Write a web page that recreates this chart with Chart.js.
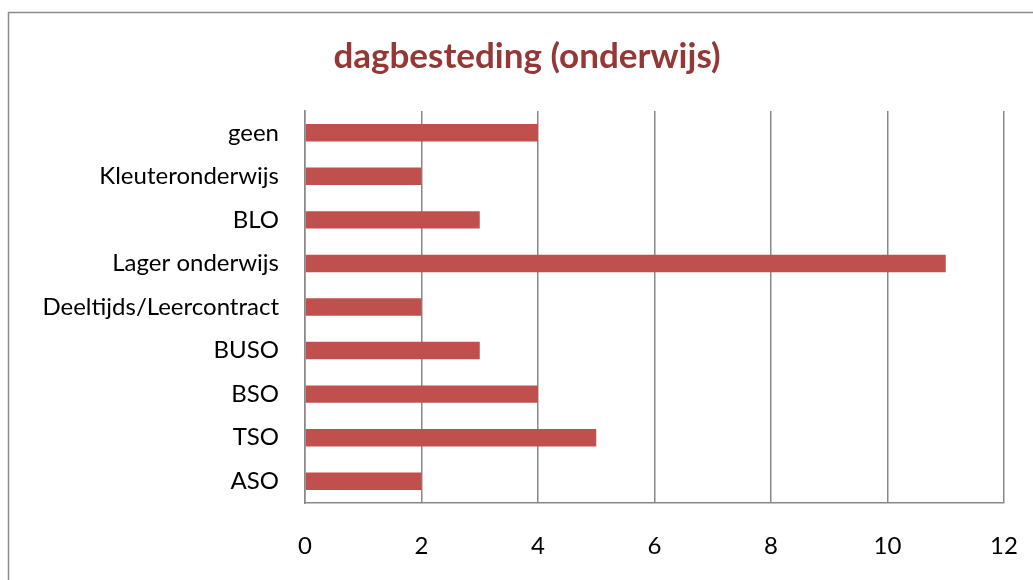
<!DOCTYPE html>
<html>
<head>
<meta charset="utf-8">
<script src="https://cdn.jsdelivr.net/npm/chart.js@4.4.1/dist/chart.umd.min.js"></script>
<style>
  html, body { margin: 0; padding: 0; background: #ffffff; }
  #wrap { position: relative; width: 1033px; height: 580px; }
</style>
</head>
<body>
<div id="wrap"><canvas id="c" width="1033" height="580"></canvas></div>
<script>
const categories = ["geen", "Kleuteronderwijs", "BLO", "Lager onderwijs", "Deeltijds/Leercontract", "BUSO", "BSO", "TSO", "ASO"];
const values = [4, 2, 3, 11, 2, 3, 4, 5, 2];
const xTicks = [0, 2, 4, 6, 8, 10, 12];
const titleText = "dagbesteding (onderwijs)";

const frame = {
  id: 'frame',
  beforeDraw(chart) {
    const ctx = chart.ctx;
    ctx.save();
    ctx.fillStyle = '#ffffff';
    ctx.fillRect(0, 0, chart.width, chart.height);
    ctx.strokeStyle = '#8c8c8c';
    ctx.lineWidth = 1.5;
    ctx.strokeRect(8.5, 12.5, 3000, 3000);
    ctx.restore();
  },
  afterDraw(chart) {
    const ctx = chart.ctx;
    ctx.save();
    ctx.fillStyle = '#953735';
    ctx.font = 'bold 35px Lato';
    ctx.textAlign = 'center';
    ctx.textBaseline = 'alphabetic';
    ctx.fillText(titleText, 527, 68);
    ctx.restore();
  }
};

new Chart(document.getElementById('c'), {
  type: 'bar',
  data: {
    labels: categories,
    datasets: [{
      data: values,
      backgroundColor: '#C0504D',
      borderWidth: 0,
      barPercentage: 0.4,
      categoryPercentage: 1.0
    }]
  },
  options: {
    indexAxis: 'y',
    responsive: false,
    animation: false,
    devicePixelRatio: 1,
    layout: { padding: { left: 0, right: 29, top: 111, bottom: 0 } },
    plugins: {
      legend: { display: false },
      tooltip: { enabled: false },
      title: { display: false }
    },
    scales: {
      x: {
        min: 0,
        max: 12,
        afterBuildTicks(scale) { scale.ticks = xTicks.map(v => ({ value: v })); },
        afterFit(scale) { scale.height = 77; },
        grid: { color: '#888888', lineWidth: 1.5, drawTicks: true, tickLength: 29, tickColor: 'rgba(0,0,0,0)' },
        border: { color: '#888888', width: 1.5 },
        ticks: { color: '#000000', font: { family: 'Lato', size: 24 }, padding: 0, maxRotation: 0 }
      },
      y: {
        afterFit(scale) { scale.width = 305; },
        grid: { display: false, drawTicks: false },
        border: { color: '#888888', width: 1.5 },
        ticks: { color: '#000000', font: { family: 'Lato', size: 24 }, padding: 26 }
      }
    }
  },
  plugins: [frame]
});
</script>
</body>
</html>
